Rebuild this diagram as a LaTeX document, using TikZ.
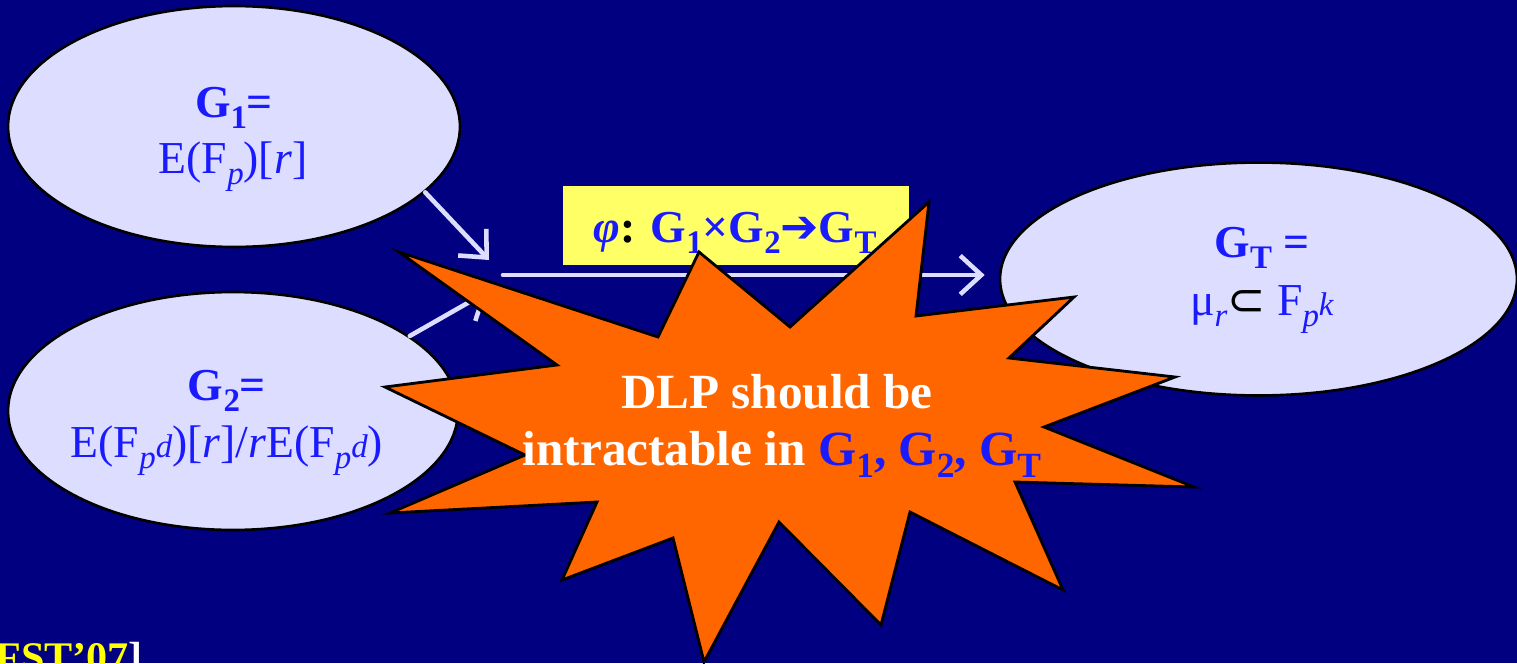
\documentclass[tikz,border=0pt]{standalone}
\usepackage{fontspec}
\usepackage{graphicx}
\setmainfont{Liberation Serif}
\newfontfamily\djv{DejaVu Sans}
\usetikzlibrary{shapes.geometric,arrows.meta}
\definecolor{bg}{HTML}{000080}
\definecolor{lav}{HTML}{DDDDFF}
\definecolor{tblue}{HTML}{1A1AFF}
\definecolor{yel}{HTML}{FFFF66}
\definecolor{org}{HTML}{FF6600}
\definecolor{fstyel}{HTML}{FFFF00}
\newcommand\dn[1]{\raisebox{-0.25em}{\scalebox{0.72}{#1}}}
\newcommand\sm[1]{\scalebox{0.72}{#1}}
\begin{document}
\begin{tikzpicture}[x=0.02cm,y=-0.02cm,
  ell/.style={ellipse, draw=black, line width=1.5pt, fill=lav, inner sep=0pt},
  lbl/.style={anchor=base, inner sep=0pt, text=tblue, font=\fontsize{26}{30}\selectfont},
  conn/.style={draw=lav, line width=2.6pt, line cap=round, -{Straight Barb[length=12pt,width=22pt]}},
  burst/.style={draw=black, line width=1.6pt, fill=org, line join=miter},
  ybox/.style={fill=yel, inner sep=0pt, minimum width=6.92cm, minimum height=1.58cm},
  startxt/.style={anchor=base, inner sep=0pt, text=white, font=\fontsize{28}{32}\selectfont\bfseries}]
\useasboundingbox (0,0) rectangle (1517,663);
\fill[bg] (0,0) rectangle (1517,663);
\clip (0,0) rectangle (1517,663);

% ellipses
\node[ell, minimum width=9.04cm, minimum height=4.82cm] (g1) at (234,126.5) {};
\node[lbl] (g1a) at (234,117) {\bfseries G\dn{1}=};
\node[lbl] (g1b) at (233,173) {E(F\dn{\textit{p}})[\textit{r}]};

\node[ell, minimum width=9.0cm, minimum height=4.76cm] (g2) at (233,411) {};
\node[lbl] (g2a) at (227,400) {\bfseries G\dn{2}=};
\node[lbl] (g2b) at (227,457) {E(F\dn{\textit{p}}\sm{\textit{d}})[\textit{r}]/\textit{r}E(F\dn{\textit{p}}\sm{\textit{d}})};

\node[ell, minimum width=10.34cm, minimum height=4.66cm] (gt) at (1258.5,279) {};
\node[lbl] (gta) at (1262,257) {\bfseries G\dn{T} =};
\node[lbl] (gtb) at (1262,315) {μ\dn{\textit{r}}{\color{black}\djv ⊂} F\dn{\textit{p}}\sm{\textit{k}}};

% connectors
\coordinate (t1) at (489,260);
\coordinate (t2) at (487,292);
\coordinate (m0) at (503,275);
\draw[conn] (g1.-19.5) -- (t1);
\draw[conn] (g2.23) -- (t2);
\draw[conn, shorten >=8pt] (m0) -- (m0 -| gt.west);

% pairing label
\node[ybox] (phibox) at (736,225.5) {};
\node[anchor=base, inner sep=0pt, font=\fontsize{26}{30}\selectfont\bfseries, text=tblue] (phi) at (735,242)
  {\textit{φ}{\color{black}:} G\dn{1}×G\dn{2}{\djv\bfseries ➔}G\dn{T}};

% explosion
\draw[burst] (399,252) -- (658,337) -- (699,252) -- (790,327) -- (929,202) -- (916,316)
  -- (1074,297) -- (1009,358) -- (1175,377) -- (1044,427) -- (1194,487) -- (1015,482)
  -- (1063,590) -- (910,512) -- (881,625) -- (779,522) -- (704,662) -- (673,538)
  -- (562,580) -- (597,502) -- (390,513) -- (525,455) -- (385,387) -- (557,365) -- cycle;
\node[startxt] (dlp1) at (777,408) {DLP should be};
\node[startxt] (dlp2) at (782,465) {intractable in \textcolor{tblue}{G\dn{1}, G\dn{2}, G\dn{T}}};

% reference
\node[anchor=base west, inner sep=0pt, font=\fontsize{24}{28}\selectfont\bfseries, text=white] (fst) at (-19,671)
  {[{\color{fstyel}FST’07}]};
\end{tikzpicture}
\end{document}
